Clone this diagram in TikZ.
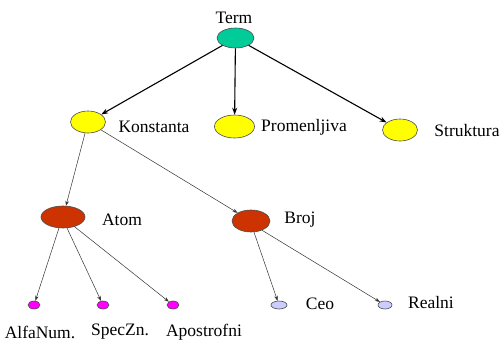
\documentclass[tikz,border=0pt]{standalone}
\usepackage{fontspec}
\setmainfont{Liberation Serif}
\usetikzlibrary{shapes.geometric,arrows.meta}
\definecolor{termc}{RGB}{0,204,153}
\definecolor{yel}{RGB}{255,255,0}
\definecolor{redc}{RGB}{204,51,0}
\definecolor{mag}{RGB}{255,0,255}
\definecolor{lav}{RGB}{204,204,255}
\tikzset{
  ell/.style={ellipse, draw=black!70, line width=0.6pt, inner sep=0pt},
  lbl/.style={font=\fontsize{17.5}{19}\selectfont, inner sep=0pt},
  big/.style={-{Stealth[length=7pt,width=5pt]}, line width=1.1pt},
  small/.style={-{Stealth[length=5pt,width=3.5pt]}, line width=0.5pt, draw=black!80},
}
\begin{document}
\begin{tikzpicture}[x=1pt,y=-1pt]
\useasboundingbox[fill=white] (0,0) rectangle (501,345);
% ellipses
\node[ell, fill=termc, minimum width=37pt, minimum height=20pt] (term) at (235.5,38) {};
\node[ell, fill=yel, minimum width=35pt, minimum height=22pt] (kon) at (88,122) {};
\node[ell, fill=yel, minimum width=40pt, minimum height=23pt] (pro) at (234.5,126.5) {};
\node[ell, fill=yel, minimum width=35pt, minimum height=22pt] (str) at (400,130) {};
\node[ell, fill=redc, minimum width=44pt, minimum height=22pt] (atom) at (63,217) {};
\node[ell, fill=redc, minimum width=38pt, minimum height=22pt] (broj) at (251,221) {};
\node[ell, fill=mag, minimum width=12pt, minimum height=8pt] (alfa) at (34,305) {};
\node[ell, fill=mag, minimum width=12pt, minimum height=8pt] (spec) at (103,305) {};
\node[ell, fill=mag, minimum width=12pt, minimum height=8pt] (apo) at (173,305) {};
\node[ell, fill=lav, minimum width=16pt, minimum height=8pt] (ceo) at (279,305) {};
\node[ell, fill=lav, minimum width=14pt, minimum height=8pt] (real) at (385,305) {};
% labels
\node[lbl] (tterm) at (234,18) {Term};
\node[lbl] (tkon) at (154,127) {Konstanta};
\node[lbl] (tpro) at (304,127) {Promenljiva};
\node[lbl] (tstr) at (467,131) {Struktura};
\node[lbl] (tatom) at (122,220) {Atom};
\node[lbl] (tbroj) at (300,220) {Broj};
\node[lbl] (talfa) at (40,332) {AlfaNum.};
\node[lbl] (tspec) at (120,332) {SpecZn.};
\node[lbl] (tapo) at (204,332) {Apostrofni};
\node[lbl] (tceo) at (320,304) {Ceo};
\node[lbl] (treal) at (431,303) {Realni};
% connectors
\draw[big] (term) -- (kon);
\draw[big] (term) -- (pro);
\draw[big] (term) -- (str);
\draw[small] (kon) -- (atom);
\draw[small] (kon) -- (broj);
\draw[small] (atom.250) -- (alfa);
\draw[small] (atom.290) -- (spec);
\draw[small] (atom.320) -- (apo);
\draw[small] (broj.285) -- (ceo);
\draw[small] (broj.320) -- (real);
\end{tikzpicture}
\end{document}
